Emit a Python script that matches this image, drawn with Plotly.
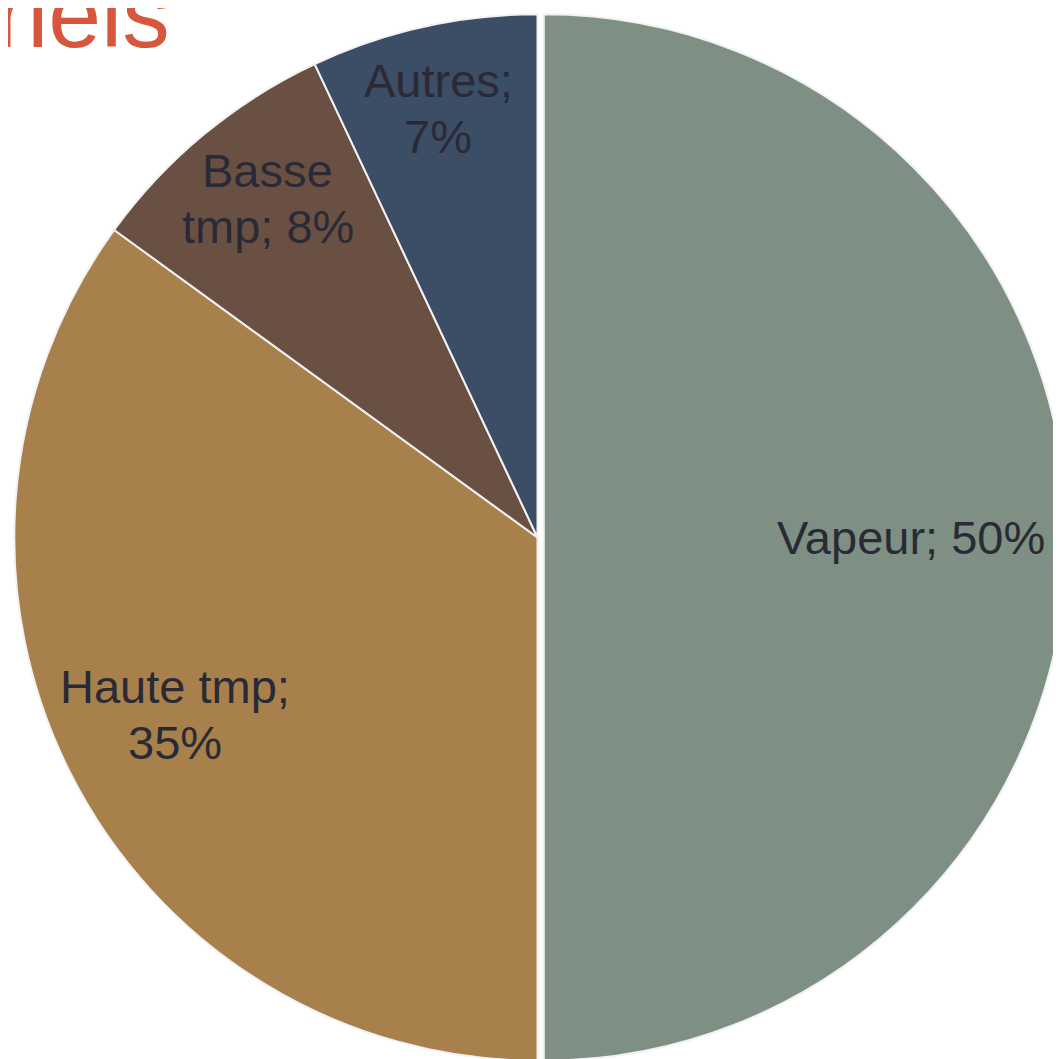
import math
import plotly.graph_objects as go

# Répartition des besoins thermiques
labels = ["Vapeur", "Haute tmp", "Basse tmp", "Autres"]
text_labels = ["Vapeur; 50%", "Haute tmp;<br>35%", "Basse<br>tmp; 8%", "Autres;<br>7%"]
values = [50, 35, 8, 7]
colors = ["#7E9083", "#A8804C", "#6A5043", "#3C4D66"]
pulls = [0.012, 0, 0, 0]
label_radius = [0.70, 0.772, 0.826, 0.839]  # position radiale des étiquettes (fraction du rayon)
label_nudge = [(0, 0), (-10, -6), (-2, -6), (-11, 0)]  # petits ajustements, px

W, H = 1061, 1059
cx, cy, r = 537, 537, 523  # centre et rayon du camembert, en pixels (depuis le haut)
line_gap = 56   # interligne des étiquettes, px
text_shift = 8  # décalage entre ancre et centre visuel du texte

fig = go.Figure()

fig.add_trace(go.Pie(
    labels=labels,
    values=values,
    textinfo="none",
    sort=False,
    direction="clockwise",
    rotation=0,
    pull=pulls,
    marker=dict(colors=colors, line=dict(color="#F2F2F2", width=2)),
    domain=dict(x=[0, 1059 / W], y=[0, 1]),
    showlegend=False,
    hoverinfo="label+percent",
))

# étiquettes placées sur l'angle médian de chaque part, ligne par ligne
total = sum(values)
cum = 0
for txt, v, f, (nx, ny) in zip(text_labels, values, label_radius, label_nudge):
    mid = (cum + v / 2) / total * 2 * math.pi
    cum += v
    px = cx + f * r * math.sin(mid) + nx
    py = cy - f * r * math.cos(mid) + ny
    lines = txt.split("<br>")
    n = len(lines)
    for i, line in enumerate(lines):
        ly = py + (i - (n - 1) / 2) * line_gap - text_shift
        fig.add_annotation(
            text=line, x=px / W, y=1 - ly / H,
            xref="paper", yref="paper",
            xanchor="center", yanchor="middle",
            showarrow=False,
            font=dict(family="Liberation Sans, Arial, sans-serif", size=47, color="#2A2A36"),
        )

# titre coupé en haut à gauche
fig.add_annotation(
    text="industriels",
    x=164 / W, y=1 + 49 / H,
    xref="paper", yref="paper",
    xanchor="right", yanchor="top",
    showarrow=False,
    font=dict(family="Liberation Sans, Arial, sans-serif", size=95, color="#D6573C"),
)

fig.update_layout(
    width=W, height=H,
    margin=dict(l=0, r=0, t=0, b=0),
    paper_bgcolor="white",
    plot_bgcolor="white",
)

fig.write_html("out.html")
